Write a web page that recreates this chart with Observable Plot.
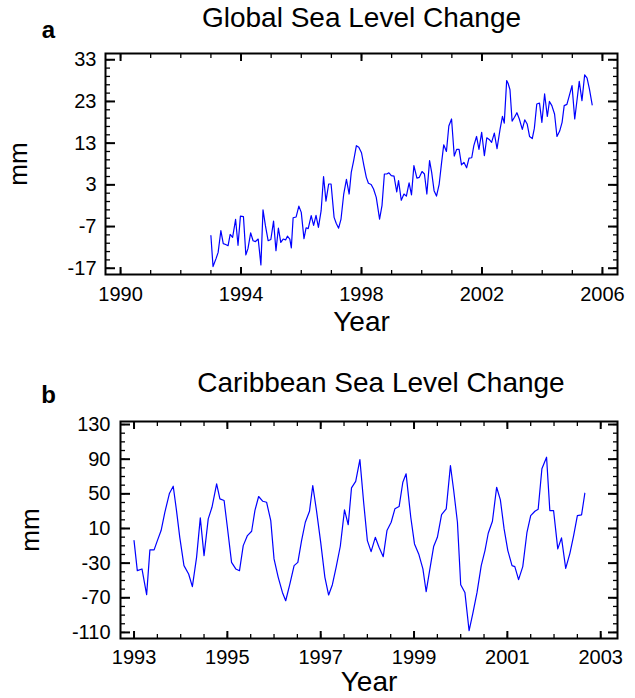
<!DOCTYPE html>
<html>
<head>
<meta charset="utf-8">
<script src="https://cdn.jsdelivr.net/npm/d3@7"></script>
<script src="https://cdn.jsdelivr.net/npm/@observablehq/plot@0.6"></script>
<style>
  html, body { margin: 0; padding: 0; background: #fff; }
  #wrap { position: relative; width: 635px; height: 698px; overflow: hidden; }
  #p1 { position: absolute; left: 0; top: 0; }
  #p2 { position: absolute; left: 0; top: 360px; }
</style>
</head>
<body>
<div id="wrap"><div id="p1"></div><div id="p2"></div></div>
<script>
// ---- Panel a: Global sea level change ----
const globalTitle = "Global Sea Level Change";
const globalYears = [1993.00,1993.07,1993.17,1993.24,1993.33,1993.41,1993.49,1993.57,1993.64,1993.72,1993.82,1993.90,1993.98,
  1994.08,1994.16,1994.23,1994.32,1994.40,1994.48,1994.57,1994.66,1994.73,1994.81,1994.90,1994.99,
  1995.08,1995.16,1995.24,1995.32,1995.40,1995.48,1995.54,1995.62,1995.67,1995.73,1995.83,1995.92,
  1996.00,1996.09,1996.16,1996.23,1996.33,1996.41,1996.49,1996.57,1996.66,1996.74,1996.82,1996.91,1996.99,
  1997.09,1997.16,1997.24,1997.32,1997.41,1997.50,1997.59,1997.66,1997.74,1997.83,1997.91,
  1998.00,1998.08,1998.16,1998.23,1998.32,1998.40,1998.49,1998.60,1998.68,1998.76,1998.84,1998.91,1998.99,
  1999.08,1999.17,1999.23,1999.32,1999.41,1999.49,1999.58,1999.66,1999.74,1999.84,1999.92,
  2000.01,2000.09,2000.17,2000.26,2000.33,2000.41,2000.49,2000.58,2000.66,2000.73,2000.82,2000.90,2000.99,
  2001.08,2001.16,2001.24,2001.32,2001.40,2001.49,2001.57,2001.66,2001.73,2001.82,2001.90,2001.99,
  2002.08,2002.16,2002.24,2002.32,2002.41,2002.50,2002.60,2002.68,2002.74,2002.82,2002.87,2002.93,
  2003.00,2003.08,2003.16,2003.24,2003.34,2003.42,2003.50,2003.58,2003.67,2003.74,2003.82,2003.91,2003.99,
  2004.08,2004.17,2004.24,2004.32,2004.41,2004.49,2004.58,2004.66,2004.73,2004.82,2004.90,2004.99,
  2005.08,2005.16,2005.23,2005.32,2005.41,2005.49,2005.57,2005.66];
const globalMm = [-9.2,-16.6,-14.7,-13.2,-8.0,-11.1,-11.3,-11.6,-8.9,-9.6,-5.3,-11.5,-4.5,
  -4.6,-13.8,-12.3,-8.5,-10.4,-10.6,-10.0,-16.2,-3.0,-6.8,-10.4,-10.1,
  -5.7,-12.8,-7.4,-10.8,-10.0,-10.2,-9.3,-10.0,-12.1,-4.9,-4.7,-2.1,
  -3.6,-9.9,-7.3,-7.5,-4.4,-6.7,-4.3,-7.2,-3.2,5.0,-0.9,3.2,3.2,
  -4.8,-6.2,-7.4,-5.2,0.8,4.3,0.8,6.0,8.8,12.4,12.0,
  10.7,7.6,4.8,3.4,3.1,2.0,0.0,-5.2,-2.0,5.6,5.6,5.9,5.2,
  5.1,1.3,4.0,-0.7,0.8,0.3,3.5,0.6,7.6,4.6,4.8,
  6.2,5.6,0.8,8.8,6.0,1.6,0.3,3.2,8.4,12.6,11.0,17.1,18.8,
  9.9,11.5,11.5,7.8,8.4,7.1,9.4,9.5,12.4,14.6,11.5,15.6,
  10.0,14.3,13.9,13.2,15.4,11.7,16.3,19.4,17.8,28.0,27.3,25.8,
  18.3,19.2,20.3,18.8,16.3,18.6,17.6,14.6,14.1,16.6,22.4,22.6,18.0,
  24.8,19.4,23.0,22.0,20.0,14.6,15.9,18.0,22.0,22.3,24.4,26.8,
  18.8,23.6,27.8,23.2,29.4,28.6,25.9,22.2];
const globalXTicks = [1990, 1994, 1998, 2002, 2006];
const globalYTicks = [-17, -7, 3, 13, 23, 33];

// ---- Panel b: Caribbean sea level change ----
const caribTitle = "Caribbean Sea Level Change";
const caribYears = [1993.00,1993.07,1993.17,1993.27,1993.34,1993.43,1993.50,1993.58,1993.66,1993.76,1993.84,1993.91,1993.98,
  1994.07,1994.17,1994.25,1994.34,1994.42,1994.50,1994.59,1994.67,1994.77,1994.84,1994.93,
  1995.00,1995.09,1995.18,1995.26,1995.34,1995.43,1995.52,1995.59,1995.67,1995.76,1995.84,1995.93,
  1996.00,1996.09,1996.18,1996.25,1996.34,1996.43,1996.51,1996.59,1996.67,1996.76,1996.83,1996.91,
  1997.00,1997.09,1997.17,1997.25,1997.33,1997.42,1997.51,1997.59,1997.66,1997.75,1997.84,1997.92,
  1998.00,1998.08,1998.17,1998.25,1998.34,1998.42,1998.51,1998.59,1998.68,1998.76,1998.83,1998.93,
  1999.01,1999.10,1999.19,1999.26,1999.34,1999.42,1999.50,1999.59,1999.69,1999.78,1999.85,1999.93,
  2000.00,2000.09,2000.18,2000.26,2000.35,2000.44,2000.52,2000.59,2000.68,2000.77,2000.85,2000.93,
  2001.01,2001.10,2001.16,2001.24,2001.33,2001.42,2001.50,2001.59,2001.66,2001.74,2001.84,2001.91,2001.99,
  2002.08,2002.16,2002.25,2002.34,2002.42,2002.50,2002.59,2002.66];
const caribMm = [-4.0,-38.7,-36.7,-66.4,-14.7,-14.7,-4.0,7.6,28.7,50.7,58.8,30.7,-0.2,
  -32.9,-42.5,-57.2,-23.3,22.3,-21.3,21.1,34.5,61.6,44.2,42.3,
  11.4,-29.1,-36.7,-38.7,-9.8,1.8,6.8,30.7,46.9,41.4,40.3,19.1,
  -25.1,-46.4,-63.8,-73.4,-54.0,-32.9,-29.1,-4.0,17.2,29.9,59.6,30.7,
  -6.0,-46.4,-66.8,-54.9,-34.9,-10.5,31.5,14.3,56.9,64.4,89.5,40.3,
  -4.0,-16.7,-0.2,-11.7,-22.5,7.6,17.2,32.7,35.3,63.4,73.1,23.0,
  -7.8,-19.4,-36.7,-63.0,-36.7,-10.9,-0.2,26.1,32.7,82.7,53.8,17.2,
  -54.9,-63.8,-108.0,-88.0,-63.8,-32.9,-15.5,4.5,18.3,57.6,43.1,9.5,
  -15.5,-32.9,-34.0,-49.1,-34.0,5.6,24.9,29.9,32.2,78.9,92.3,30.7,30.7,
  -13.6,-0.9,-36.0,-18.7,1.8,24.9,25.7,50.7];
const caribXTicks = [1993, 1995, 1997, 1999, 2001, 2003];
const caribYTicks = [-110, -70, -30, 10, 50, 90, 130];

const FONT = "'Liberation Sans', Arial, Helvetica, sans-serif";

function panel(cfg) {
  const data = cfg.years.map((t, i) => ({t, v: cfg.values[i]}));
  const majorX = cfg.xTicks, majorY = cfg.yTicks;
  const minorX = cfg.xMinor, minorY = cfg.yMinor;
  const fmt = d => String(d);
  return Plot.plot({
    width: 635,
    height: cfg.height,
    marginTop: cfg.mt, marginBottom: cfg.mb, marginLeft: cfg.ml, marginRight: cfg.mr,
    style: {fontFamily: FONT, fontSize: "20px", color: "black", background: "white", overflow: "visible"},
    x: {domain: cfg.xDomain},
    y: {domain: cfg.yDomain},
    marks: [
      Plot.line(data, {x: "t", y: "v", stroke: "#0000ff", strokeWidth: 1.2}),
      Plot.axisY(minorY, {anchor: "left", tickSize: -5, fill: "none", label: null, strokeWidth: 1.3}),
      Plot.axisY(minorY, {anchor: "right", tickSize: -5, fill: "none", label: null, strokeWidth: 1.3}),
      Plot.axisX(minorX, {anchor: "bottom", tickSize: -4, fill: "none", label: null, strokeWidth: 1.3}),
      Plot.axisX(minorX, {anchor: "top", tickSize: -4, fill: "none", label: null, strokeWidth: 1.3}),
      Plot.axisY(majorY, {anchor: "left", tickSize: -10, fill: "none", label: null, strokeWidth: 2}),
      Plot.axisY(majorY, {anchor: "right", tickSize: -10, fill: "none", label: null, strokeWidth: 2}),
      Plot.axisX(majorX, {anchor: "bottom", tickSize: -7, fill: "none", label: null, strokeWidth: 2}),
      Plot.axisX(majorX, {anchor: "top", tickSize: -7, fill: "none", label: null, strokeWidth: 2}),
      Plot.axisY(majorY, {anchor: "left", tickSize: 0, tickPadding: cfg.yPad, tickFormat: fmt, label: null}),
      Plot.axisX(majorX, {anchor: "bottom", tickSize: 0, tickPadding: cfg.xPad, tickFormat: fmt, label: null}),
      Plot.frame({stroke: "black", strokeWidth: 2}),
      Plot.text([cfg.title], {frameAnchor: "top", dx: cfg.titleDx, dy: cfg.titleDy, fontSize: 28, lineAnchor: "middle"}),
      Plot.text([cfg.letter], {frameAnchor: "top-left", dx: cfg.letterDx, dy: cfg.letterDy, fontSize: 24, fontWeight: "bold", textAnchor: "middle", lineAnchor: "middle"}),
      Plot.text(["Year"], {frameAnchor: "bottom", dy: cfg.yearDy, fontSize: 28, lineAnchor: "middle"}),
      Plot.text(["mm"], {frameAnchor: "left", dx: cfg.mmDx, rotate: -90, fontSize: 26, lineAnchor: "middle", textAnchor: "middle"})
    ]
  });
}

document.getElementById("p1").appendChild(panel({
  years: globalYears, values: globalMm,
  xTicks: globalXTicks, yTicks: globalYTicks,
  xMinor: d3.range(1990, 2007, 1), yMinor: d3.range(-17, 35, 2),
  height: 350, mt: 53, mb: 76, ml: 105, mr: 18,
  xDomain: [1989.5, 2006.5], yDomain: [-18.5, 34.5],
  yPad: 9, xPad: 12,
  title: globalTitle, titleDx: 0, titleDy: -35,
  letter: "a", letterDx: -57, letterDy: -23,
  yearDy: 48, mmDx: -87
}));

document.getElementById("p2").appendChild(panel({
  years: caribYears, values: caribMm,
  xTicks: caribXTicks, yTicks: caribYTicks,
  xMinor: d3.range(1993, 2003.01, 0.5), yMinor: d3.range(-110, 131, 10),
  height: 338, mt: 61, mb: 60, ml: 120, mr: 18,
  xDomain: [1992.71, 2003.36], yDomain: [-117, 133.5],
  yPad: 10, xPad: 11,
  title: caribTitle, titleDx: 12, titleDy: -38,
  letter: "b", letterDx: -72, letterDy: -26,
  yearDy: 44, mmDx: -90
}));
</script>
</body>
</html>
